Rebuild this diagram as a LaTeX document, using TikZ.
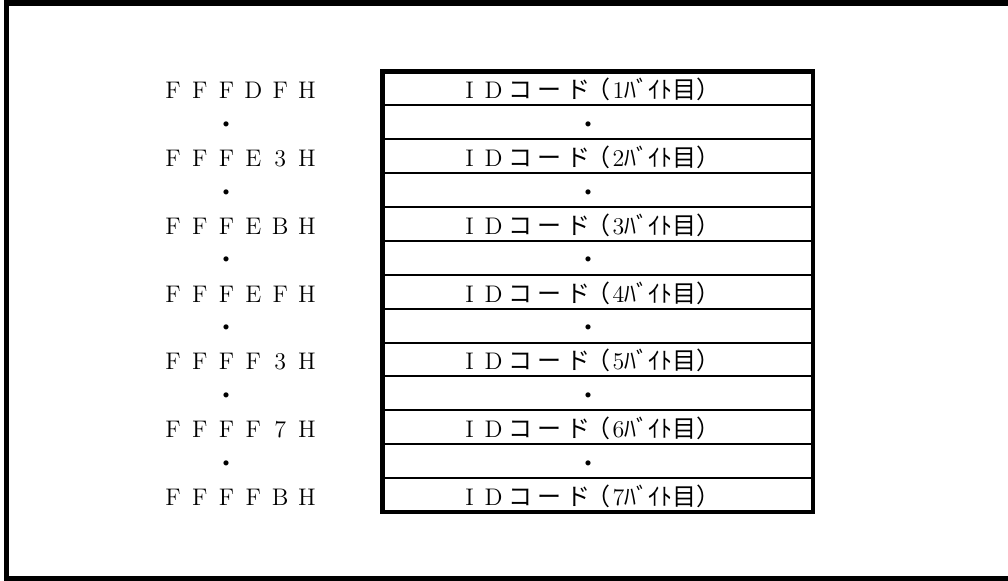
\documentclass[tikz,border=0pt]{standalone}
\usepackage{fontspec}
\newfontfamily\jp{Noto Sans CJK JP}
\newcommand{\zw}[2][13.4pt]{\makebox[#1]{#2}}
\newcommand{\wide}[2][13.4pt]{\foreach \ch in {#2}{\zw[#1]{\ch}}}

\begin{document}
\begin{tikzpicture}[x=0.5pt, y=-0.5pt,
  cell/.style={draw, line width=1pt, minimum width=215.25pt, minimum height=16.94pt, inner sep=0pt, outer sep=0pt},
  addr/.style={font=\fontsize{12pt}{14pt}\selectfont, inner sep=0pt, anchor=base, yshift=-5.25pt},
  idtxt/.style={font=\fontsize{12pt}{14pt}\selectfont, inner sep=0pt, anchor=base, yshift=-5.25pt},
  dot/.style={font=\fontsize{12pt}{14pt}\selectfont, inner sep=0pt, anchor=base, yshift=-5.5pt}]

  \newcommand\RowH{33.88}
  \newcommand\TopY{71.5}

  \useasboundingbox (0,0) rectangle (1008,581);

  %% frame, open on the right
  \draw[line width=2.8pt] (1008,3) -- (6.5,3) -- (6.5,579) -- (1008,579);

  \coordinate (lx) at (240,0);
  \coordinate (ldot) at (226,0);
  \coordinate (tx) at (589,0);
  \coordinate (tdot) at (588,0);

  %% rows of the table
  \foreach \i in {1,...,13}
    \node[cell] (r\i) at (597.75, \TopY+\i*\RowH-0.5*\RowH) {};
  \draw[line width=2.3pt] (r1.north west) rectangle (r13.south east);

  %% addresses and ID bytes
  \foreach \p/\q [count=\k] in {D/F, E/3, E/B, E/F, F/3, F/7, F/B} {
    \pgfmathtruncatemacro\r{2*\k-1}
    \node[addr] (a\k) at (r\r -| lx) {\wide{F,F,F,\p,\q,H}};
    \node[idtxt] (id\k) at (r\r -| tx)
      {\wide[12pt]{I,D}\jp\wide[14.5pt]{コ,ー,ド}\kern-3pt （\kern1pt\rmfamily\k\jp ﾊﾞｲﾄ目）};
  }

  %% dots between
  \foreach \k in {1,...,6} {
    \pgfmathtruncatemacro\r{2*\k}
    \node[dot] (ad\k) at (r\r -| ldot) {\jp ・};
    \node[dot] (td\k) at (r\r -| tdot) {\jp ・};
  }

\end{tikzpicture}
\end{document}
